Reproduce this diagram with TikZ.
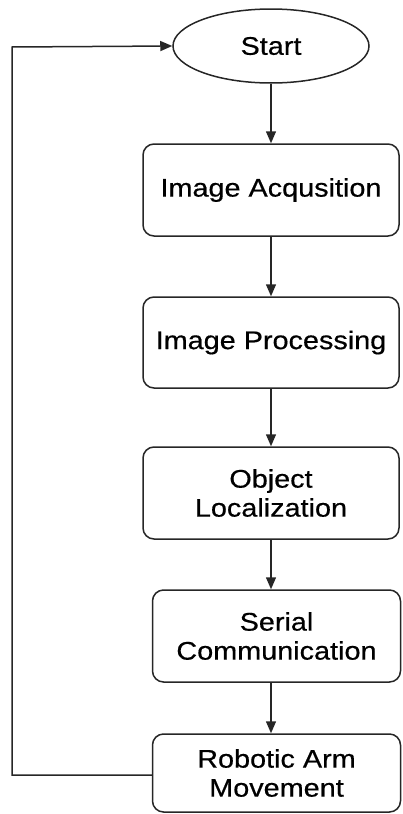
\documentclass[tikz,border=0pt]{standalone}
\usepackage{fontspec}
\setmainfont{Liberation Sans}[FakeStretch=1.13,FakeBold=0.5]
\usetikzlibrary{shapes.geometric,arrows.meta,calc}
\tikzset{
  box/.style={draw=black!85, line width=1.5pt, rounded corners=11pt, align=center,
    font=\fontsize{25.5}{29}\selectfont, inner sep=0pt},
  oval/.style={draw=black!85, line width=1.5pt, ellipse, inner sep=0pt,
    font=\fontsize{25.5}{29}\selectfont},
  flow/.style={line width=1.5pt, draw=black!85, -{Triangle[length=12pt,width=10pt]}}
}
\begin{document}
\begin{tikzpicture}[x=1pt,y=-1pt]
\useasboundingbox (0,0) rectangle (402,814);
\node[oval, minimum width=196pt, minimum height=74pt] (start) at (271,46) {Start};
\node[box, minimum width=256pt, minimum height=92pt] (acq) at (271,190) {Image Acqusition};
\node[box, minimum width=256pt, minimum height=91pt] (proc) at (271,342.5) {Image Processing};
\node[box, minimum width=256pt, minimum height=92pt] (loc) at (271,493) {Object\\Localization};
\node[box, minimum width=248pt, minimum height=92pt] (ser) at (276.5,636) {Serial\\Communication};
\node[box, minimum width=248pt, minimum height=78pt] (rob) at (276.5,773) {Robotic Arm\\Movement};
\coordinate (lb) at (12,775);
\coordinate (lt) at (12,47);
\draw[flow] (start.south -| acq.north) -- (acq.north);
\draw[flow] (acq.south) -- (proc.north);
\draw[flow] (proc.south) -- (loc.north);
\draw[flow] (loc.south) -- (loc.south |- ser.north);
\draw[flow] (loc.south |- ser.south) -- (loc.south |- rob.north);
\draw[flow] (rob.west |- lb) -- (lb) -- (lt) -- (start.west);
\end{tikzpicture}
\end{document}
